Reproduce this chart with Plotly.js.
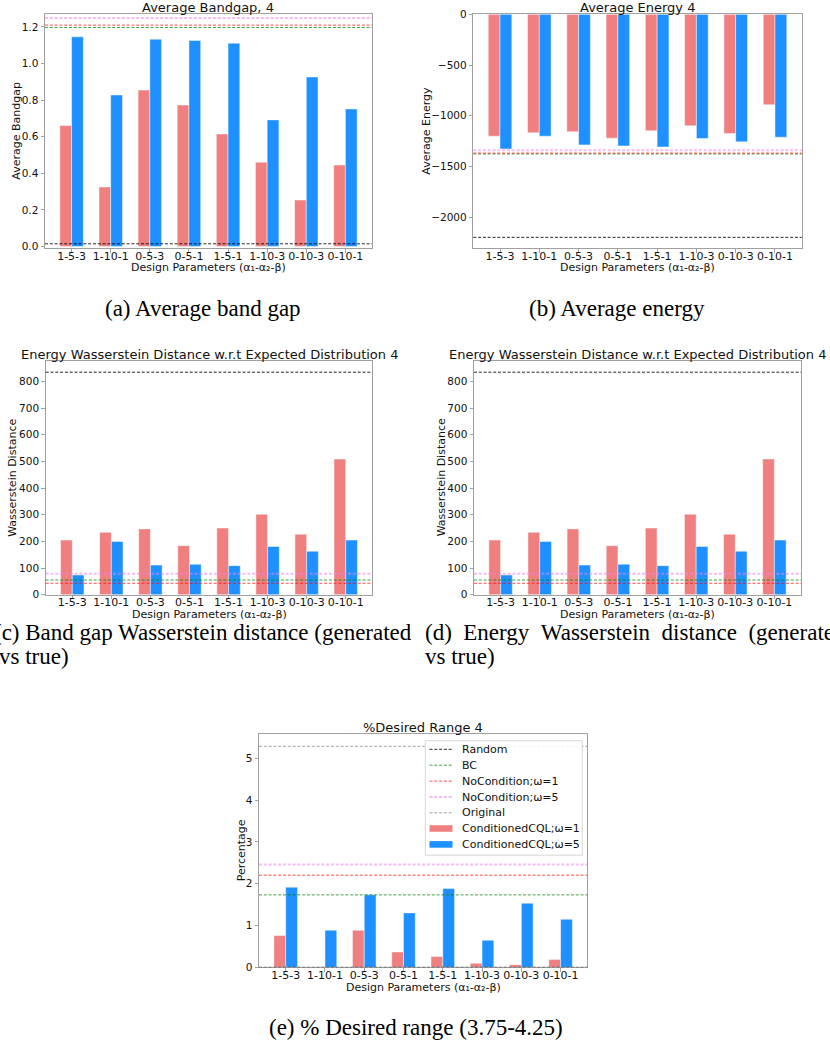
<!DOCTYPE html>
<html>
<head>
<meta charset="utf-8">
<script src="https://cdn.plot.ly/plotly-3.0.1.min.js"></script>
<style>
  html, body { margin: 0; padding: 0; background: #fff; }
  #chart { width: 830px; height: 1046px; }
</style>
</head>
<body>
<div id="chart"></div>
<script>
// Design parameter settings (alpha1-alpha2-beta)
const categories = ['1-5-3', '1-10-1', '0-5-3', '0-5-1', '1-5-1', '1-10-3', '0-10-3', '0-10-1'];

// ConditionedCQL results, omega = 1 and omega = 5
const bandgapCQL1 = [0.661, 0.325, 0.855, 0.773, 0.615, 0.461, 0.254, 0.445];
const bandgapCQL5 = [1.146, 0.828, 1.133, 1.126, 1.111, 0.692, 0.926, 0.752];
const energyCQL1 = [-1201, -1168, -1158, -1221, -1148, -1099, -1175, -891];
const energyCQL5 = [-1327, -1201, -1287, -1297, -1307, -1224, -1257, -1211];
const wassCQL1 = [205, 234, 247, 184, 250, 302, 227, 509];
const wassCQL5 = [74, 200, 111, 114, 109, 181, 163, 205];
const rangeCQL1 = [0.759, 0, 0.887, 0.367, 0.256, 0.096, 0.064, 0.184];
const rangeCQL5 = [1.917, 0.887, 1.733, 1.302, 1.885, 0.647, 1.534, 1.150];

// Baselines, in order: Random, BC, NoCondition;ω=1, NoCondition;ω=5, Original
const baselineNames = ['Random', 'BC', 'NoCondition;ω=1', 'NoCondition;ω=5', 'Original'];
const bandgapBase = [0.015, 1.197, 1.210, 1.249, null];
const energyBase = [-2198, -1376, -1368, -1340, null];
const wassBase = [835, 55, 43, 79, null];
const rangeBase = [0, 1.733, 2.204, 2.460, 5.288];

const seriesNames = ['ConditionedCQL;ω=1', 'ConditionedCQL;ω=5'];

// ---- styling ----
const W = 830, H = 1046;
const px = x => x / W;
const py = y => 1 - y / H;
const RED = '#F08080', BLUE = '#1E90FF';
const baseStyles = [
  { color: 'rgba(0,0,0,0.85)', width: 1 },
  { color: 'rgba(0,128,0,0.75)', width: 1 },
  { color: 'rgba(255,0,0,0.7)', width: 1 },
  { color: 'rgba(238,130,238,0.55)', width: 2 },
  { color: 'rgba(128,128,128,0.75)', width: 1 }
];
const DASH = '3px,1.8px';
const FONT = 'DejaVu Sans, sans-serif';
const INK = '#111';

const panels = [
  { x0: 45, x1: 372, top: 14.3, bottom: 248, range: [-0.008, 1.269], dtick: 0.2, fmt: '.1f',
    a: bandgapCQL1, b: bandgapCQL5, base: bandgapBase,
    title: 'Average Bandgap, 4', ytitle: 'Average Bandgap', ytx: 16.5, xty: 268 },
  { x0: 473.3, x1: 801.7, top: 14.3, bottom: 248, range: [-2303, 0], dtick: 500, fmt: 'd',
    a: energyCQL1, b: energyCQL5, base: energyBase,
    title: 'Average Energy 4', ytitle: 'Average Energy', ytx: 426.5, xty: 268 },
  { x0: 45.7, x1: 372.3, top: 361, bottom: 594.7, range: [0, 877], dtick: 100, fmt: 'd',
    a: wassCQL1, b: wassCQL5, base: wassBase,
    title: 'Energy Wasserstein Distance w.r.t Expected Distribution 4', ytitle: 'Wasserstein Distance', ytx: 13, xty: 614 },
  { x0: 474, x1: 801, top: 361, bottom: 594.7, range: [0, 877], dtick: 100, fmt: 'd',
    a: wassCQL1, b: wassCQL5, base: wassBase,
    title: 'Energy Wasserstein Distance w.r.t Expected Distribution 4', ytitle: 'Wasserstein Distance', ytx: 441.5, xty: 614 },
  { x0: 259, x1: 587.3, top: 734.3, bottom: 967.3, range: [0, 5.575], dtick: 1, fmt: 'd',
    a: rangeCQL1, b: rangeCQL5, base: rangeBase,
    title: '%Desired Range 4', ytitle: 'Percentage', ytx: 241.5, xty: 987 }
];

const data = [];
const shapes = [];
const annotations = [];
const layout = {
  width: W, height: H,
  margin: { l: 0, r: 0, t: 0, b: 0 },
  paper_bgcolor: '#fff', plot_bgcolor: '#fff',
  showlegend: false,
  barmode: 'group', bargap: 0.4, bargroupgap: 0,
  font: { family: FONT, size: 11, color: INK }
};

panels.forEach((p, i) => {
  const n = i + 1;
  const xa = 'x' + (n === 1 ? '' : n), ya = 'y' + (n === 1 ? '' : n);
  const xk = 'xaxis' + (n === 1 ? '' : n), yk = 'yaxis' + (n === 1 ? '' : n);
  const axisCommon = {
    showline: true, linecolor: '#a0a0a0', linewidth: 1, mirror: true,
    showgrid: false, zeroline: false,
    ticks: 'outside', ticklen: 3.5, tickwidth: 1, tickcolor: '#a0a0a0'
  };
  layout[xk] = Object.assign({}, axisCommon, {
    domain: [px(p.x0), px(p.x1)], anchor: ya, type: 'category',
    range: [-0.68, 7.68], fixedrange: true, ticklabelstandoff: -6,
    tickfont: { family: FONT, size: 11, color: INK }
  });
  layout[yk] = Object.assign({}, axisCommon, {
    domain: [py(p.bottom), py(p.top)], anchor: xa,
    range: p.range, dtick: p.dtick, tickformat: p.fmt,
    fixedrange: true, tickfont: { family: FONT, size: 10.5, color: INK }
  });

  data.push({
    type: 'bar', x: categories, y: p.a, name: seriesNames[0], xaxis: xa, yaxis: ya,
    marker: { color: RED, line: { color: 'rgba(255,255,255,0.45)', width: 1 } }
  });
  data.push({
    type: 'bar', x: categories, y: p.b, name: seriesNames[1], xaxis: xa, yaxis: ya,
    marker: { color: BLUE, line: { color: 'rgba(255,255,255,0.45)', width: 1 } }
  });

  p.base.forEach((v, k) => {
    if (v === null) return;
    shapes.push({
      type: 'line', xref: xa + ' domain', yref: ya, x0: 0, x1: 1, y0: v, y1: v,
      line: { color: baseStyles[k].color, width: baseStyles[k].width, dash: DASH },
      layer: 'above'
    });
  });

  annotations.push({
    text: p.title, xref: 'paper', yref: 'paper', borderpad: 0,
    x: px((p.x0 + p.x1) / 2), y: py(p.top - 6.8), xanchor: 'center', yanchor: 'middle',
    showarrow: false, font: { family: FONT, size: 13, color: INK }
  });
  annotations.push({
    text: p.ytitle, xref: 'paper', yref: 'paper', textangle: -90, borderpad: 0,
    x: px(p.ytx), y: py((p.top + p.bottom) / 2), xanchor: 'center', yanchor: 'middle',
    showarrow: false, font: { family: FONT, size: 11, color: INK }
  });
  annotations.push({
    text: 'Design Parameters (α₁-α₂-β)', xref: 'paper', yref: 'paper', borderpad: 0,
    x: px((p.x0 + p.x1) / 2), y: py(p.xty), xanchor: 'center', yanchor: 'middle',
    showarrow: false, font: { family: FONT, size: 11, color: INK }
  });
});

// Legend for the %Desired Range panel
const lg = { x0: 425.3, x1: 582.3, y0: 740.7, y1: 855.2, sx0: 429.5, sx1: 452.5, tx: 460.5, rows: [749.3, 765.2, 781.1, 797.1, 812.8, 828.5, 844.4] };
shapes.push({
  type: 'rect', xref: 'paper', yref: 'paper',
  x0: px(lg.x0), x1: px(lg.x1), y0: py(lg.y1), y1: py(lg.y0),
  line: { color: '#d6d6d6', width: 1 }, fillcolor: 'rgba(255,255,255,0.85)', layer: 'above'
});
baselineNames.forEach((name, k) => {
  const yy = lg.rows[k];
  shapes.push({
    type: 'line', xref: 'paper', yref: 'paper',
    x0: px(lg.sx0), x1: px(lg.sx1), y0: py(yy), y1: py(yy),
    line: { color: baseStyles[k].color, width: baseStyles[k].width, dash: DASH }, layer: 'above'
  });
  annotations.push({
    text: name, xref: 'paper', yref: 'paper', x: px(lg.tx), y: py(yy), borderpad: 0,
    xanchor: 'left', yanchor: 'middle', showarrow: false,
    font: { family: FONT, size: 11, color: INK }
  });
});
seriesNames.forEach((name, k) => {
  const yy = lg.rows[5 + k];
  shapes.push({
    type: 'rect', xref: 'paper', yref: 'paper',
    x0: px(lg.sx0), x1: px(lg.sx1), y0: py(yy + 3.3), y1: py(yy - 3.3),
    line: { width: 0 }, fillcolor: k === 0 ? RED : BLUE, layer: 'above'
  });
  annotations.push({
    text: name, xref: 'paper', yref: 'paper', x: px(lg.tx), y: py(yy), borderpad: 0,
    xanchor: 'left', yanchor: 'middle', showarrow: false,
    font: { family: FONT, size: 11, color: INK }
  });
});

// Sub-figure captions (first lines of (c)/(d) are justified to the column width)
const CAP = 'Liberation Serif, Times New Roman, serif';
const EN = '\u2002';
const captions = [
  { text: '(a) Average band gap', x: 203, y: 308, anchor: 'center' },
  { text: '(b) Average energy', x: 617, y: 308, anchor: 'center' },
  { text: '(c) Band gap Wasserstein distance (generated', x: -8, y: 632, anchor: 'left' },
  { text: 'vs true)', x: -3, y: 656, anchor: 'left' },
  { text: ['(d)', 'Energy', 'Wasserstein', 'distance', '(generated'].join(EN), x: 423, y: 632, anchor: 'left' },
  { text: 'vs true)', x: 423, y: 656, anchor: 'left' },
  { text: '(e) % Desired range (3.75-4.25)', x: 416, y: 1027, anchor: 'center' }
];
captions.forEach(c => {
  annotations.push({
    text: c.text, xref: 'paper', yref: 'paper', x: px(c.x), y: py(c.y),
    xanchor: c.anchor, yanchor: 'middle', showarrow: false,
    font: { family: CAP, size: 23, color: '#000' }
  });
});

layout.shapes = shapes;
layout.annotations = annotations;

Plotly.newPlot('chart', data, layout, { displayModeBar: false, staticPlot: true });
</script>
</body>
</html>
